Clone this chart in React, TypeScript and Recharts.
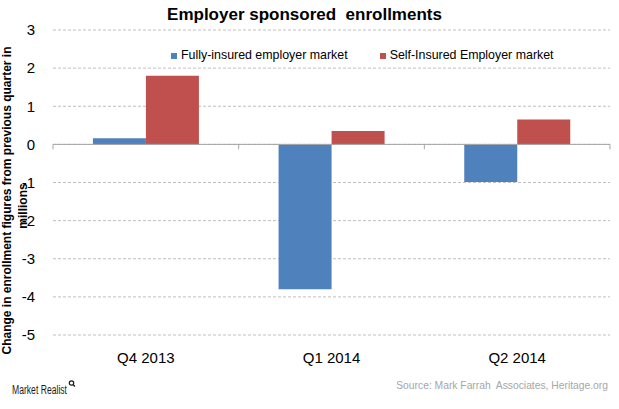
import { BarChart, Bar, XAxis, YAxis, CartesianGrid, ReferenceLine, Legend } from "recharts";

const quarters = ["Q4 2013", "Q1 2014", "Q2 2014"];
const fullyInsured = [0.16, -3.8, -0.99];
const selfInsured = [1.8, 0.35, 0.65];
const yTicks = [-5, -4, -3, -2, -1, 0, 1, 2, 3];

const chartData = quarters.map((quarter, i) => ({
  quarter,
  fully: fullyInsured[i],
  self: selfInsured[i],
}));

const font = "'Liberation Sans', Arial, sans-serif";

// solid zero line with small ticks at the category boundaries
const ZeroLine = (props: any) => {
  const { x1, x2, y1 } = props;
  const step = (x2 - x1) / quarters.length;
  return (
    <g>
      <line x1={x1} x2={x2} y1={y1} y2={y1} stroke="#a6a6a6" strokeWidth={1} />
      {[0, 1, 2, 3].map((i) => (
        <line key={i} x1={x1 + i * step} x2={x1 + i * step} y1={y1} y2={y1 + 5} stroke="#a6a6a6" strokeWidth={1} />
      ))}
    </g>
  );
};

const renderLegend = (props: any) => {
  const { payload = [] } = props;
  return (
    <div style={{ display: "flex", fontFamily: font, fontSize: 12.4, lineHeight: "15px", color: "#000", whiteSpace: "nowrap" }}>
      {payload.map((entry: any, i: number) => (
        <div key={i} style={{ display: "flex", alignItems: "center", marginRight: i === 0 ? 32 : 0 }}>
          <span style={{ display: "inline-block", width: 6, height: 6, background: entry.color, marginRight: 4 }} />
          <span>{entry.value}</span>
        </div>
      ))}
    </div>
  );
};

export default function App() {
  return (
    <div style={{ position: "absolute", left: 0, top: 0, width: 619, height: 409, background: "#fff" }}>
      <BarChart
        width={619}
        height={409}
        data={chartData}
        margin={{ top: 30, right: 9, bottom: 44, left: 0 }}
        barCategoryGap="21.5%"
        barGap={0}
      >
        <CartesianGrid vertical={false} stroke="#bfbfbf" strokeDasharray="3 2" />
        <XAxis
          dataKey="quarter"
          axisLine={false}
          tickLine={false}
          interval={0}
          height={30}
          tickMargin={11}
          tick={{ fontSize: 15, fill: "#000", fontFamily: font }}
        />
        <YAxis
          domain={[-5, 3]}
          ticks={yTicks}
          width={53}
          axisLine={false}
          tickLine={false}
          tickMargin={12}
          tick={{ fontSize: 15, fill: "#000", fontFamily: font }}
        />
        <Legend
          verticalAlign="middle"
          align="center"
          layout="horizontal"
          content={renderLegend}
          wrapperStyle={{ top: 48, left: 171, width: "auto" }}
        />
        <Bar dataKey="fully" name="Fully-insured employer market" fill="#4f81bd" isAnimationActive={false} />
        <Bar dataKey="self" name="Self-Insured Employer market" fill="#c0504d" isAnimationActive={false} />
        <ReferenceLine y={0} shape={ZeroLine} />
      </BarChart>
      <svg width={619} height={409} style={{ position: "absolute", left: 0, top: 0, pointerEvents: "none" }}>
        <text x={304.5} y={20} textAnchor="middle" fontFamily={font} fontSize={17} fontWeight="bold" fill="#000" style={{ whiteSpace: "pre" }}>
          {"Employer sponsored  enrollments"}
        </text>
        <g transform="translate(11,200.5) rotate(-90)">
          <text x={0} y={0} textAnchor="middle" fontFamily={font} fontSize={12} fontWeight="bold" fill="#000">
            Change in enrollment figures from previous quarter in
          </text>
        </g>
        <g transform="translate(11,206) rotate(-90)">
          <text x={0} y={16} textAnchor="middle" fontFamily={font} fontSize={12} fontWeight="bold" fill="#000">
            millions
          </text>
        </g>
        <text x={608} y={389} textAnchor="end" fontFamily={font} fontSize={10.3} fill="#a6a6a6" style={{ whiteSpace: "pre" }}>
          {"Source: Mark Farrah  Associates, Heritage.org"}
        </text>
        <text x={12} y={394} fontFamily={font} fontSize={12.5} fill="#1a1a1a" textLength={55} lengthAdjust="spacingAndGlyphs">
          Market Realist
        </text>
        <circle cx={71.5} cy={383} r={2.2} fill="none" stroke="#1a1a1a" strokeWidth={1.2} />
        <line x1={73} y1={384.5} x2={75} y2={386.5} stroke="#1a1a1a" strokeWidth={1.2} />
      </svg>
    </div>
  );
}
